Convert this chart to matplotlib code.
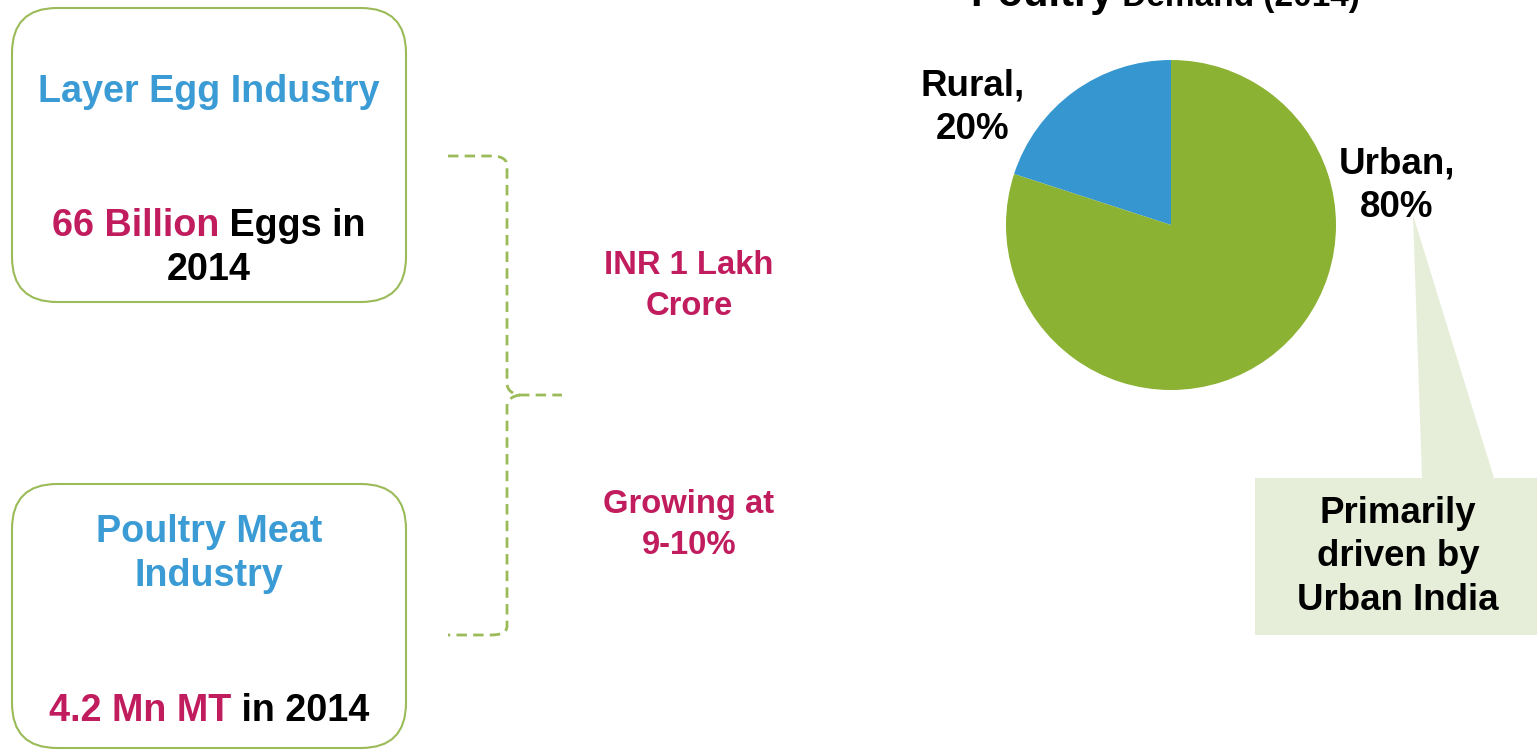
import matplotlib
matplotlib.use("Agg")
import matplotlib.pyplot as plt
from matplotlib.patches import FancyBboxPatch, Polygon, PathPatch
from matplotlib.path import Path

plt.rcParams['font.family'] = ['Liberation Sans', 'DejaVu Sans']
plt.rcParams['lines.scale_dashes'] = False

# ---- data ----
pie_labels = ["Rural", "Urban"]
pie_values = [20, 80]
pie_colors = ["#3596D0", "#8CB234"]
chart_title_bold = "Poultry"
chart_title_rest = " Demand (2014)"

egg_title = "Layer Egg Industry"
egg_value = "66 Billion"
egg_rest = " Eggs in"
egg_year = "2014"
meat_title = ["Poultry Meat", "Industry"]
meat_value = "4.2 Mn MT"
meat_rest = " in 2014"
market_size = ["INR 1 Lakh", "Crore"]
growth = ["Growing at", "9-10%"]
callout_text = "Primarily\ndriven by\nUrban India"

BLUE_TXT = "#3A9BD5"
MAG = "#C01C5E"
GREEN_LINE = "#9BBB59"
CALLOUT = "#E6EED9"

W, H = 1537, 751
fig = plt.figure(figsize=(W / 100, H / 100), dpi=100)
fig.patch.set_facecolor("white")

# ---- pie axes ----
cx, cy, r = 1171, 225, 165
pax = fig.add_axes([(cx - r) / W, 1 - (cy + r) / H, 2 * r / W, 2 * r / H])
pax.pie(pie_values, colors=pie_colors, startangle=90, counterclock=True,
        radius=1, wedgeprops=dict(linewidth=0))
pax.set_xlim(-1, 1)
pax.set_ylim(-1, 1)
pax.set_aspect('auto')
pax.axis('off')

# ---- overlay axes in pixel coordinates ----
ax = fig.add_axes([0, 0, 1, 1], zorder=5)
ax.set_xlim(0, W)
ax.set_ylim(H, 0)
ax.axis('off')
ax.patch.set_alpha(0)

# rounded boxes
for (x0, y0, x1, y1) in [(12, 8, 406, 302), (12, 484, 406, 748)]:
    ax.add_patch(FancyBboxPatch((x0, y0), x1 - x0, y1 - y0,
                                boxstyle="round,pad=0,rounding_size=45",
                                facecolor="white", edgecolor=GREEN_LINE, lw=1.5))

FS = 27.2
ax.text(209, 92, egg_title, color=BLUE_TXT, fontsize=FS, fontweight='bold',
        ha='center', va='center')
ax.text(209, 554, "\n".join(meat_title), color=BLUE_TXT, fontsize=FS,
        fontweight='bold', ha='center', va='center', linespacing=1.32)

renderer = fig.canvas.get_renderer()


def two_color_line(x_center, y, parts, fontsize, **kw):
    texts = []
    for s, c in parts:
        t = ax.text(0, y, s, color=c, fontsize=fontsize, fontweight='bold',
                    ha='left', va='center', **kw)
        texts.append(t)
    widths = [t.get_window_extent(renderer).width for t in texts]
    total = sum(widths)
    x = x_center - total / 2
    for t, w in zip(texts, widths):
        t.set_x(x)
        x += w
    return texts


two_color_line(209, 226, [(egg_value, MAG), (egg_rest, "black")], FS)
ax.text(209, 270, egg_year, color="black", fontsize=FS, fontweight='bold',
        ha='center', va='center')
two_color_line(209, 711, [(meat_value, MAG), (meat_rest, "black")], FS)

# middle texts
FS2 = 23.6
ax.text(689, 286, "\n".join(market_size), color=MAG, fontsize=FS2,
        fontweight='bold', ha='center', va='center', linespacing=1.38)
ax.text(689, 525, "\n".join(growth), color=MAG, fontsize=FS2,
        fontweight='bold', ha='center', va='center', linespacing=1.38)

# dashed bracket
verts = [(448, 156), (490, 156), (500, 156), (507, 158), (507, 166),
         (507, 383), (507, 390), (512, 394), (520, 395),
         (562, 395),
         (520, 395), (512, 396), (507, 400), (507, 407),
         (507, 626), (507, 633), (500, 635), (490, 635), (448, 635)]
codes = [Path.MOVETO, Path.LINETO, Path.CURVE4, Path.CURVE4, Path.CURVE4,
         Path.LINETO, Path.CURVE4, Path.CURVE4, Path.CURVE4,
         Path.LINETO,
         Path.MOVETO, Path.CURVE4, Path.CURVE4, Path.CURVE4,
         Path.LINETO, Path.CURVE4, Path.CURVE4, Path.CURVE4, Path.LINETO]
ax.add_patch(PathPatch(Path(verts, codes), facecolor='none', edgecolor=GREEN_LINE,
                       lw=2.0, linestyle=(0, (7.5, 4.5))))

# pie labels
FS3 = 26.5
ax.text(973, 108, f"{pie_labels[0]},\n{pie_values[0]}%", color="black",
        fontsize=FS3, fontweight='bold', ha='center', va='center', linespacing=1.3)
ax.text(1397, 186, f"{pie_labels[1]},\n{pie_values[1]}%", color="black",
        fontsize=FS3, fontweight='bold', ha='center', va='center', linespacing=1.3)

# title (cut off at top)
t1 = ax.text(0, 6, chart_title_bold, fontsize=30, fontweight='bold',
             color='black', ha='left', va='baseline')
t2 = ax.text(0, 6, chart_title_rest, fontsize=24, fontweight='bold',
             color='black', ha='left', va='baseline')
w1 = t1.get_window_extent(renderer).width
w2 = t2.get_window_extent(renderer).width
x0 = 1165 - (w1 + w2) / 2
t1.set_x(x0)
t2.set_x(x0 + w1)

# callout
ax.add_patch(Polygon([(1413, 215), (1422, 478), (1494, 478)], closed=True,
                     facecolor=CALLOUT, edgecolor='none'))
ax.add_patch(Polygon([(1255, 478), (1540, 478), (1540, 635), (1255, 635)],
                     closed=True, facecolor=CALLOUT, edgecolor='none'))
ax.text(1398, 557, callout_text, color='black', fontsize=26.4,
        fontweight='bold', ha='center', va='center', linespacing=1.3)

fig.savefig("out.png", dpi=100)
